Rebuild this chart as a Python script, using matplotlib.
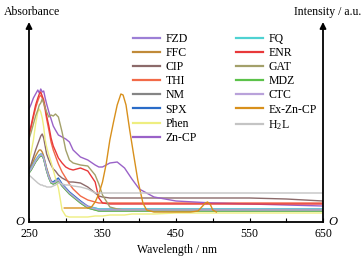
import matplotlib
matplotlib.use("Agg")
import matplotlib.pyplot as plt

plt.rcParams['font.family'] = ['Liberation Serif', 'DejaVu Serif']
plt.rcParams['mathtext.fontset'] = 'custom'
plt.rcParams['mathtext.rm'] = 'Liberation Serif'
plt.rcParams['mathtext.it'] = 'Liberation Serif:italic'

# ---------------- data (arbitrary units) ----------------
wl = [250, 253, 256, 259, 262, 264, 266, 268, 270, 272, 274, 277, 280, 283, 286, 290,
      295, 300, 305, 310, 320, 330, 340, 345, 350, 360, 370, 380, 390, 400, 420, 450,
      500, 550, 600, 650]

FZD = [50, 54, 58, 62, 65, 67, 68, 68, 65, 59, 53, 46, 41, 40, 41, 43,
       38, 34, 30, 27, 21, 16, 14, 13, 13, 13, 13, 13, 13, 13, 13, 13,
       13, 13, 13, 13]
FFC = [51, 56, 61, 66, 70, 72, 72, 70, 66, 60, 54, 47, 41, 39, 40, 42,
       37, 33, 29, 26, 20, 15, 13, 12, 12, 12, 12, 12, 12, 12, 12, 12,
       12, 12, 12, 12]
CIP = [52, 58, 65, 72, 78, 82, 86, 88, 84, 76, 68, 62, 57, 53, 51, 47,
       44, 42, 40, 40, 39, 35, 29, 26, 25, 24, 24, 24, 24, 24, 24, 24,
       24, 24, 23, 21]
THI = [86, 95, 105, 114, 121, 125, 127, 124, 119, 112, 103, 92, 80, 72, 66, 58,
       50, 44, 38, 33, 26, 22, 20, 19, 19, 19, 19, 19, 19, 19, 19, 19,
       19, 19, 19, 19]
NM = [49, 52, 56, 60, 63, 65, 66, 66, 63, 57, 51, 44, 39, 38, 39, 41,
      36, 32, 28, 25, 19, 14, 12, 11, 11, 11, 11, 11, 11, 11, 11, 11,
      11, 11, 11, 11]
SPX = [50, 53, 57, 61, 64, 66, 67, 67, 64, 58, 52, 45, 40, 40, 42, 44,
       38, 34, 30, 27, 21, 15, 13, 12, 12, 12, 12, 12, 12, 12, 12, 12,
       12, 12, 12, 12]
Phen = [60, 70, 82, 98, 110, 113, 110, 104, 95, 82, 75, 67, 60, 52, 44, 34,
        12, 6, 5, 5, 5, 5, 6, 6, 6, 7, 7, 7, 8, 8, 8, 9,
        9, 9, 9, 9]
ZnCP = [113, 118, 124, 128, 132, 129, 133, 130, 131, 124, 118, 110, 103, 96, 92, 87,
        85, 83, 80, 72, 65, 62, 57, 55, 55, 59, 60, 54, 43, 33, 25, 21,
        19, 18, 17, 16]
FQ = [51, 54, 58, 62, 65, 67, 68, 67, 64, 58, 52, 45, 40, 39, 40, 42,
      37, 33, 29, 26, 20, 15, 14, 13, 13, 13, 13, 13, 13, 13, 13, 13,
      13, 13, 13, 13]
ENR = [88, 97, 107, 117, 124, 128, 130, 126, 122, 115, 106, 96, 84, 76, 71, 64,
       59, 55, 53, 52, 54, 51, 40, 24, 19, 18, 18, 18, 18, 18, 18, 18,
       18, 18, 18, 18]
GAT = [83, 90, 98, 106, 112, 117, 119, 123, 119, 114, 110, 105, 107, 106, 108, 105,
       90, 72, 62, 59, 57, 56, 47, 38, 27, 15, 13, 12, 12, 12, 12, 12,
       12, 12, 12, 12]
MDZ = [49, 52, 56, 60, 63, 65, 66, 66, 63, 57, 51, 44, 39, 38, 39, 41,
       36, 32, 28, 25, 19, 14, 12, 11, 11, 11, 11, 11, 11, 11, 11, 11,
       11, 11, 11, 11]
CTC = [50, 53, 57, 61, 64, 66, 67, 67, 64, 58, 52, 45, 40, 39, 40, 42,
       37, 33, 29, 26, 20, 15, 13, 12, 12, 12, 12, 12, 12, 12, 12, 12,
       12, 12, 12, 12]
H2L = [47, 45, 43, 41, 39, 38, 37, 37, 36, 36, 35, 35, 35, 36, 37, 39,
       38, 37, 37, 36, 35, 33, 29, 29, 29, 29, 29, 29, 29, 29, 29, 29,
       29, 29, 29, 29]

ex_wl = [298, 310, 320, 330, 335, 340, 345, 350, 355, 360, 365, 370, 375, 378, 382,
         387, 392, 398, 405, 410, 420, 450, 470, 480, 485, 490, 493, 497, 500, 505]
ExZnCP = [14, 14, 14, 14, 15, 20, 28, 40, 58, 82, 100, 117, 128, 127, 117,
          92, 69, 42, 19, 12, 10, 10, 10, 11, 15, 19, 20, 17, 12, 10]

x_ticks = [250, 350, 450, 550, 650]

# ---------------- figure ----------------
fig = plt.figure(figsize=(3.64, 2.61), dpi=100)
W, H = 364, 261
x0, x1, y0, y1 = 29, 323, 222, 22
ax = fig.add_axes([x0 / W, 1 - y0 / H, (x1 - x0) / W, (y0 - y1) / H])

series = [
    ("FZD", wl, FZD, "#9c7fd6"),
    ("FFC", wl, FFC, "#c08a38"),
    ("CIP", wl, CIP, "#8c6a6a"),
    ("THI", wl, THI, "#f26a48"),
    ("NM", wl, NM, "#858585"),
    ("SPX", wl, SPX, "#2a6cc8"),
    ("Phen", wl, Phen, "#eeee80"),
    ("Zn-CP", wl, ZnCP, "#9a62c8"),
    ("FQ", wl, FQ, "#4fd2d2"),
    ("ENR", wl, ENR, "#e8383a"),
    ("GAT", wl, GAT, "#a3a06a"),
    ("MDZ", wl, MDZ, "#5cc24a"),
    ("CTC", wl, CTC, "#b9a2da"),
    ("Ex-Zn-CP", ex_wl, ExZnCP, "#d8901c"),
    ("H$_2$L", wl, H2L, "#c4c4c4"),
]
for name, xs, ys, c in series:
    ax.plot(xs, ys, color=c, lw=1.0, label=name)

ax.set_xlim(250, 650)
ax.set_ylim(0, 200)
for s in ["top", "left", "right"]:
    ax.spines[s].set_visible(False)
ax.spines["bottom"].set_linewidth(1.3)

ax.set_xticks(x_ticks)
ax.set_xticks([300, 400, 500, 600], minor=True)
ax.tick_params(axis='x', which='both', direction='in', length=3, width=0.8,
               labelsize=8.5, pad=4)
ax.set_yticks([])

# arrowed vertical axes
for xf in (0, 1):
    ax.annotate('', xy=(xf, 1.0), xytext=(xf, 0), xycoords='axes fraction',
                textcoords='axes fraction',
                arrowprops=dict(arrowstyle='-|>', lw=1.3, color='k',
                                mutation_scale=9, shrinkA=0, shrinkB=0))

fig.text(32 / W, 1 - 12 / H, "Absorbance", ha='center', va='center', fontsize=8.5)
fig.text(328 / W, 1 - 12 / H, "Intensity / a.u.", ha='center', va='center', fontsize=8.5)
fig.text(177 / W, 1 - 250 / H, "Wavelength / nm", ha='center', va='center', fontsize=8.5)
fig.text(20 / W, 1 - 222 / H, "O", ha='center', va='center', fontsize=9, style='italic')
fig.text(333 / W, 1 - 222 / H, "O", ha='center', va='center', fontsize=9, style='italic')

leg = ax.legend(ncol=2, loc='upper left', bbox_to_anchor=(133 / W, 1 - 33 / H),
                bbox_transform=fig.transFigure, frameon=False, fontsize=8.5,
                handlelength=2.3, handletextpad=0.45, labelspacing=0.18,
                columnspacing=3.3, borderpad=0, borderaxespad=0)
for l in leg.get_lines():
    l.set_linewidth(1.6)

fig.savefig("out.png", dpi=100)
